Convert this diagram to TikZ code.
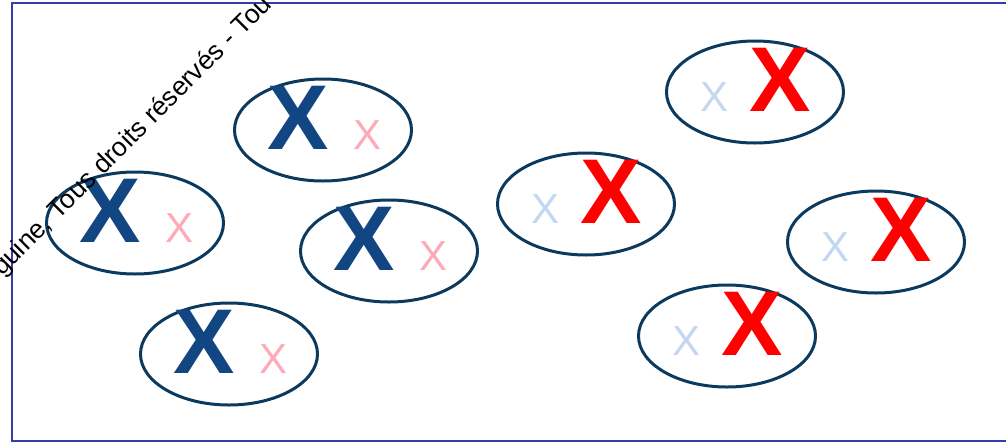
\documentclass[tikz,border=0pt]{standalone}
\usepackage{fontspec}
\setmainfont{Liberation Sans}
\usetikzlibrary{shapes.geometric}
\definecolor{frameblue}{HTML}{3A3AAA}
\definecolor{ringnavy}{HTML}{0B3A5E}
\definecolor{bigblue}{HTML}{124682}
\definecolor{softpink}{HTML}{FFAAB8}
\definecolor{bigred}{HTML}{FF0000}
\definecolor{softblue}{HTML}{C3D7F3}
\begin{document}
\begin{tikzpicture}[x=1pt,y=-1pt,
  cell/.style={draw=ringnavy,line width=3pt,ellipse,minimum width=177pt,minimum height=102pt,inner sep=0pt},
  bigletter/.style={anchor=base,inner sep=0pt,font=\fontsize{92}{92}\selectfont\bfseries},
  smallletter/.style={anchor=base,inner sep=0pt,font=\fontsize{42}{42}\selectfont},
  stamp/.style={anchor=base west,inner sep=0pt,rotate=45,font=\fontsize{26.5}{26.5}\selectfont,text=black}
]
\useasboundingbox (0,0) rectangle (1006,445);
\begin{scope}
  \clip (0,0) rectangle (1006,445);
  \draw[frameblue,line width=2pt] (12,3) rectangle (1016,441);

  % blue-dominant cells: big X left, small x right
  \foreach \n/\cx/\cy in {b1/135/223, b2/323/130, b3/389/251, b4/229/354}{
    \node[cell] (\n) at (\cx,\cy) {};
    \node[bigletter,text=bigblue] (\n-big) at (\cx-25,\cy+19) {X};
    \node[smallletter,text=softpink] (\n-small) at (\cx+45,\cy+19) {X};
  }
  % red-dominant cells: small x left, big X right
  \foreach \n/\cx/\cy in {r1/586/204, r2/755/92, r3/876/242, r4/727/336}{
    \node[cell] (\n) at (\cx,\cy) {};
    \node[smallletter,text=softblue] (\n-small) at (\cx-41,\cy+19) {X};
    \node[bigletter,text=bigred] (\n-big) at (\cx+25,\cy+19) {X};
  }

  % copyright line across the upper left corner
  \node[stamp] (rights) at (2,277) {guine, Tous droits réservés - Tou};
\end{scope}
\end{tikzpicture}
\end{document}
